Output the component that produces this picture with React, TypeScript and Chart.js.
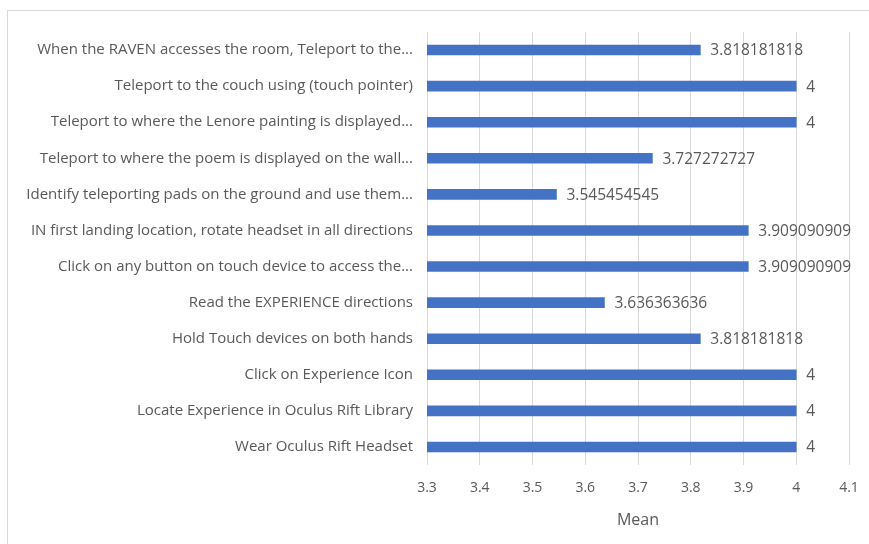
import React, { useEffect, useRef } from "react";
import { Chart, registerables } from "chart.js";

Chart.register(...registerables);

const categories = [
  "When the RAVEN accesses the room, Teleport to the...",
  "Teleport to the couch using (touch pointer)",
  "Teleport to where the Lenore painting is displayed...",
  "Teleport to where the poem is displayed on the wall...",
  "Identify teleporting pads on the ground and use them...",
  "IN first landing location, rotate headset in all directions",
  "Click on any button on touch device to access the...",
  "Read the EXPERIENCE directions",
  "Hold Touch devices on both hands",
  "Click on Experience Icon",
  "Locate Experience in Oculus Rift Library",
  "Wear Oculus Rift Headset",
];

const meanValues = [
  3.818181818, 4, 4, 3.727272727, 3.545454545, 3.909090909, 3.909090909,
  3.636363636, 3.818181818, 4, 4, 4,
];

const tickLabels = ["3.3", "3.4", "3.5", "3.6", "3.7", "3.8", "3.9", "4", "4.1"];

const axisTitle = "Mean";

const FONT = "'Open Sans', 'Liberation Sans', sans-serif";
const TEXT = "#595959";

const valueLabels = {
  id: "valueLabels",
  afterDatasetsDraw(chart: any) {
    const ctx = chart.ctx;
    const meta = chart.getDatasetMeta(0);
    ctx.save();
    ctx.font = `15.5px ${FONT}`;
    ctx.fillStyle = TEXT;
    ctx.textAlign = "left";
    ctx.textBaseline = "middle";
    meta.data.forEach((bar: any, i: number) => {
      const v = meanValues[i];
      const txt = parseFloat(v.toFixed(9)).toString();
      ctx.fillText(txt, bar.x + 10, bar.y + 1);
    });
    ctx.restore();
  },
};

export default function App() {
  const ref = useRef<HTMLCanvasElement | null>(null);

  useEffect(() => {
    document.body.style.margin = "0";
    const chart = new Chart(ref.current as HTMLCanvasElement, {
      type: "bar",
      data: {
        labels: categories,
        datasets: [
          {
            data: meanValues,
            backgroundColor: "#4472C4",
            borderWidth: 0,
            barThickness: 10,
          },
        ],
      },
      options: {
        indexAxis: "y",
        animation: false,
        responsive: false,
        maintainAspectRatio: false,
        layout: { padding: { top: 32, right: 20, left: 0, bottom: 0 } },
        plugins: {
          legend: { display: false },
          tooltip: { enabled: false },
        },
        scales: {
          x: {
            min: 3.3,
            max: 4.1,
            ticks: {
              stepSize: 0.1,
              color: TEXT,
              font: { family: FONT, size: 14 },
              padding: 15,
              callback: (_v: any, i: number) => tickLabels[i],
            },
            grid: { color: "#d9d9d9", drawTicks: false },
            border: { display: false },
            title: {
              display: true,
              text: axisTitle,
              color: TEXT,
              font: { family: FONT, size: 16 },
              padding: { top: 4, bottom: 14 },
            },
            afterFit: (scale: any) => {
              scale.height = 79;
              scale.paddingRight = 0;
              scale.paddingLeft = 0;
            },
          },
          y: {
            ticks: {
              color: TEXT,
              font: { family: FONT, size: 15 },
              padding: 14,
              autoSkip: false,
            },
            grid: { display: false, drawTicks: false },
            border: { display: false },
            afterFit: (scale: any) => {
              scale.width = 427;
            },
          },
        },
      },
      plugins: [valueLabels],
    });
    return () => chart.destroy();
  }, []);

  return (
    <div style={{ position: "relative", width: 869, height: 544, overflow: "hidden", background: "#fff" }}>
      <div
        style={{
          position: "absolute",
          left: 7,
          top: 10,
          width: 880,
          height: 560,
          border: "1px solid #d9d9d9",
          boxSizing: "border-box",
        }}
      />
      <canvas ref={ref} width={869} height={544} style={{ position: "absolute", left: 0, top: 0 }} />
    </div>
  );
}
